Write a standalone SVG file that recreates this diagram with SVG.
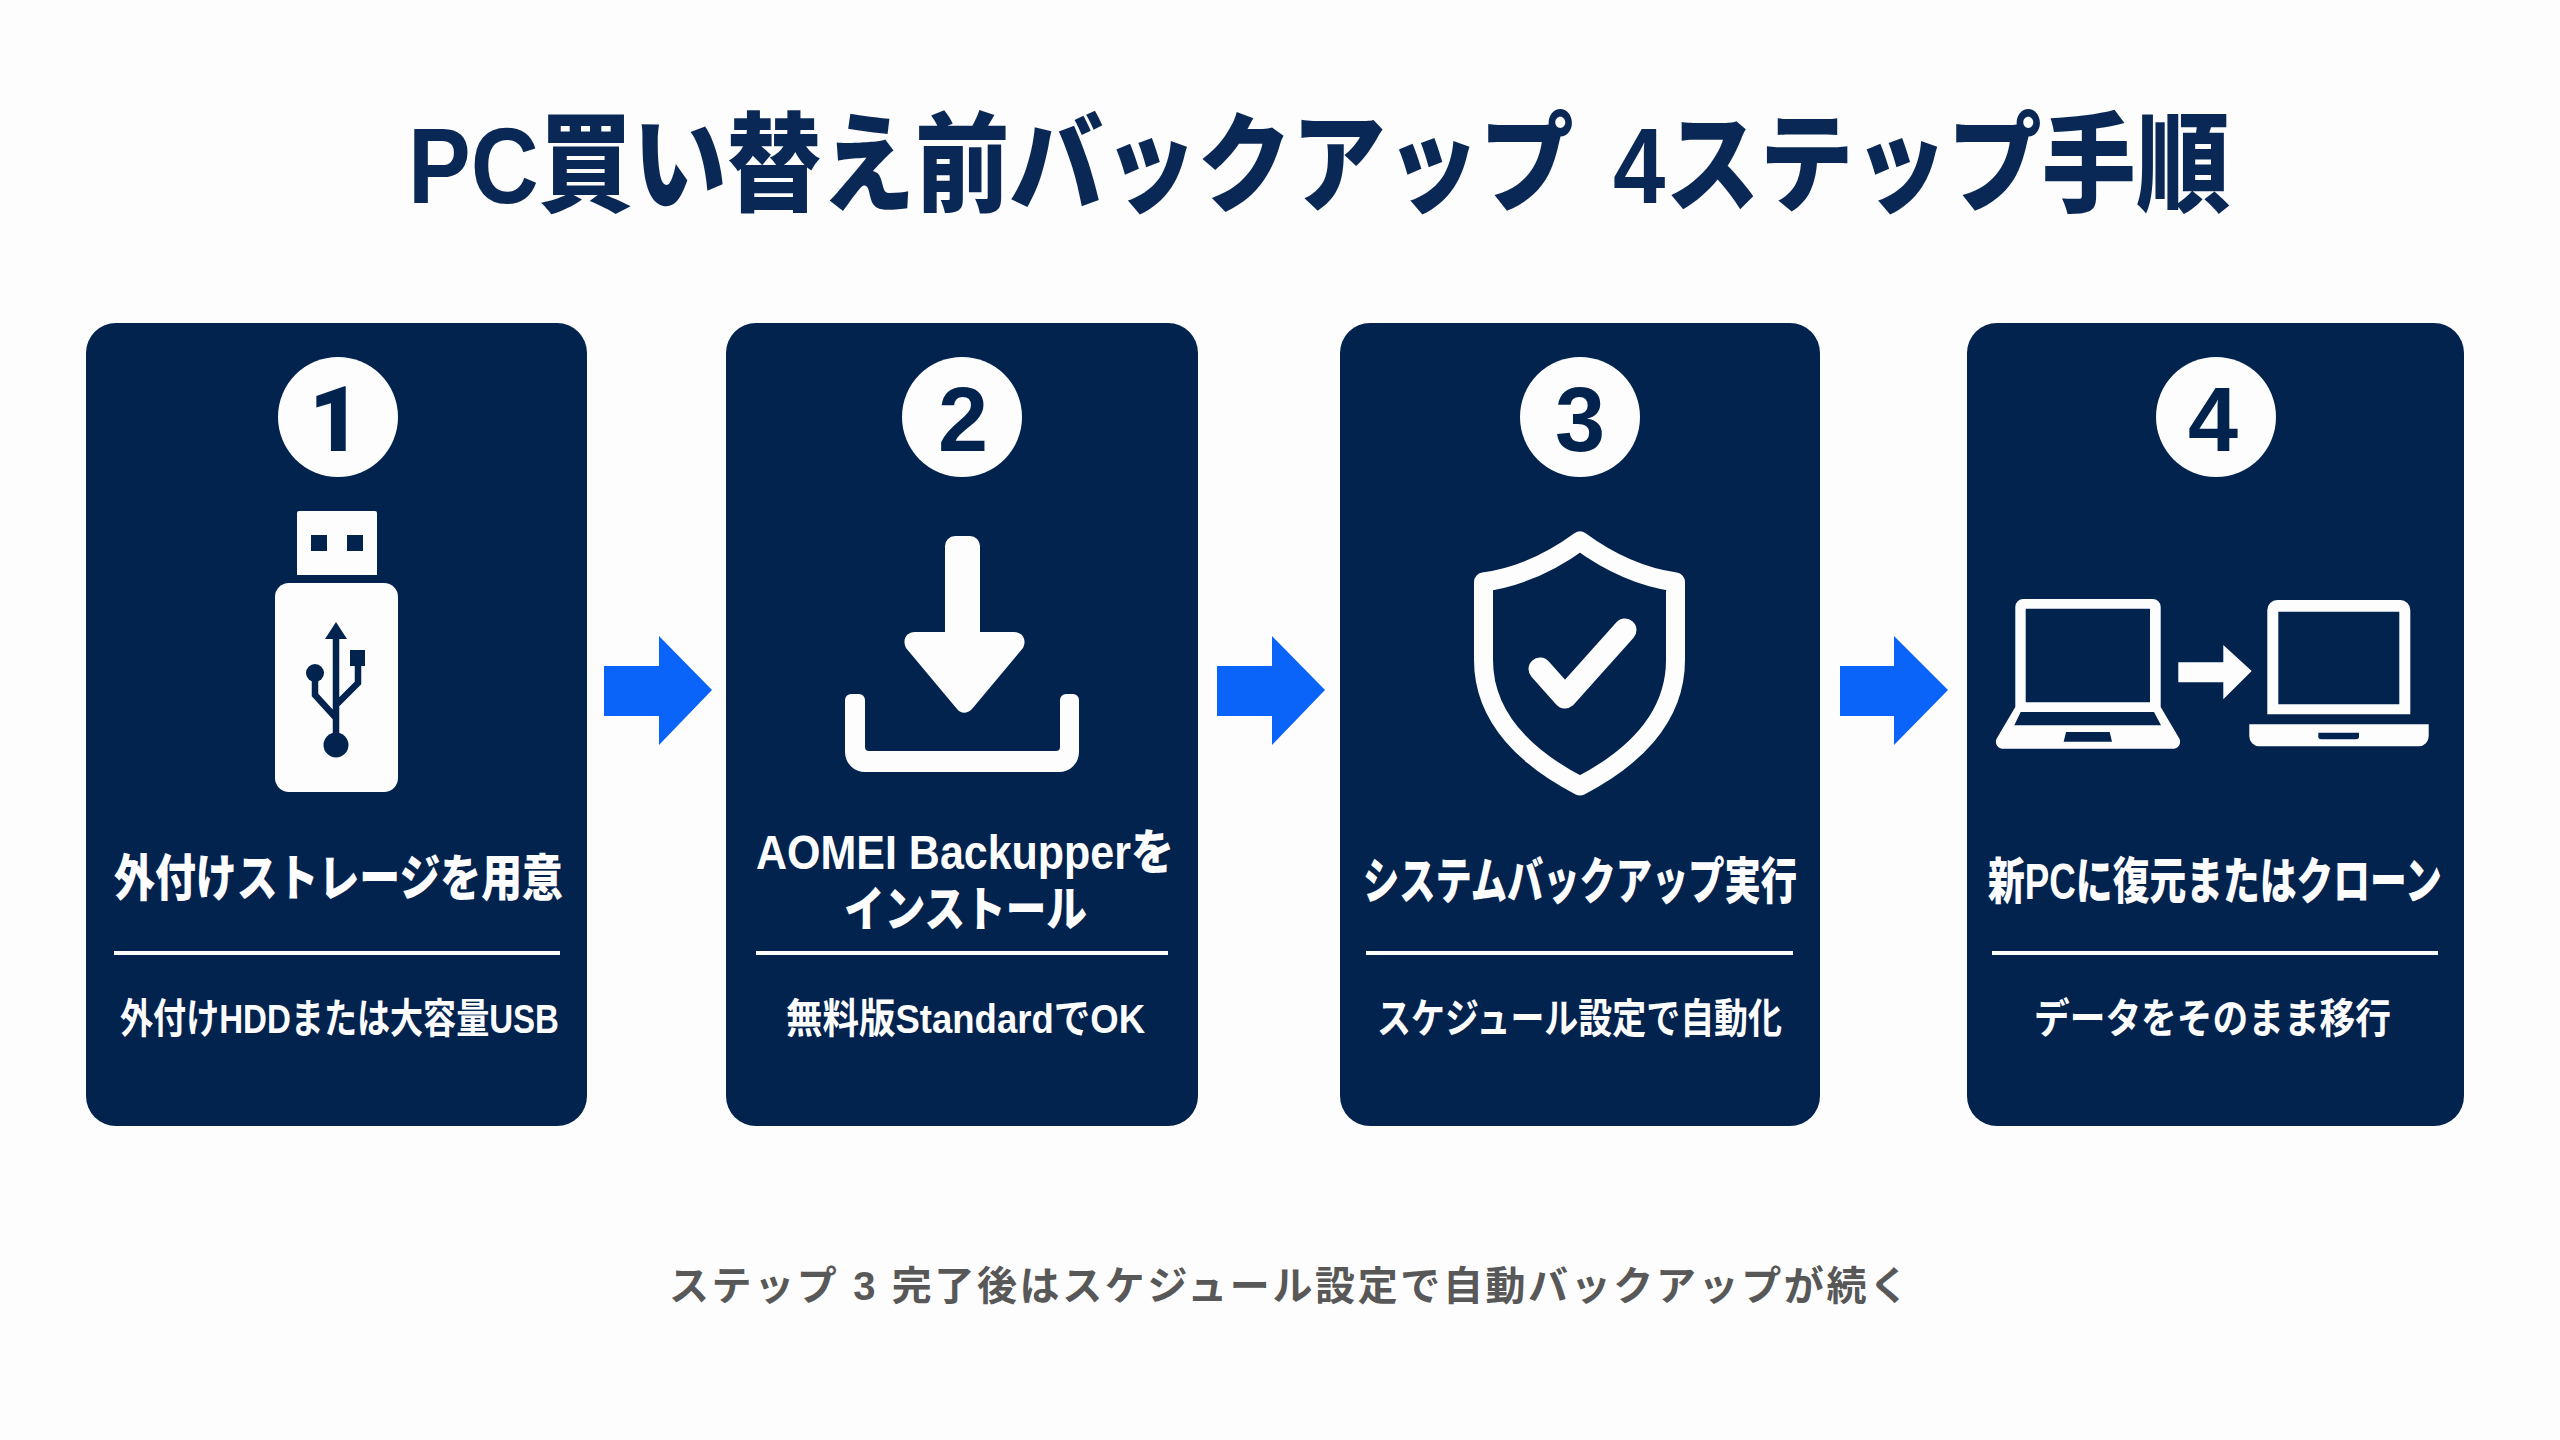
<svg xmlns="http://www.w3.org/2000/svg" width="2560" height="1440" viewBox="0 0 2560 1440">
<style>
text{font-family:"Liberation Sans","Noto Sans CJK JP",sans-serif;font-weight:700}
.card{fill:#03234f}
.w{fill:#fdfdfe}
.d{fill:#03234f}
.num{fill:#03234f;font-size:90px;text-anchor:middle}
.head{fill:#fdfdfe;font-size:50px;font-weight:900}
.sub{fill:#fdfdfe;font-size:41px}
.rule{fill:#fdfdfe}
.arrow{fill:#0a64fa}
</style>
<rect width="2560" height="1440" fill="#fdfdfd"/>
<text id="title" x="408" y="203" font-size="108" fill="#0a2855" style="font-weight:900;word-spacing:15px" textLength="1822" lengthAdjust="spacingAndGlyphs">PC買い替え前バックアップ 4ステップ手順</text>
<g id="connectors">
<polygon class="arrow" points="604,666 659,666 659,636 712,690 659,745 659,716 604,716"/>
<polygon class="arrow" points="1217,666 1272,666 1272,636 1325,690 1272,745 1272,716 1217,716"/>
<polygon class="arrow" points="1840,666 1894,666 1894,636 1948,690 1894,745 1894,716 1840,716"/>
</g>
<g id="step1">
<rect class="card" x="86" y="323" width="501" height="803" rx="30"/>
<circle class="w" cx="338" cy="417" r="60"/>
<text class="num" x="335" y="451" style="font-family:Roboto,sans-serif;font-weight:900">1</text>
<path class="w" fill-rule="evenodd" d="M297 513a2 2 0 0 1 2-2h76a2 2 0 0 1 2 2V575H297ZM311 535v16h16v-16ZM347 535v16h16v-16Z"/>
<rect class="w" x="275" y="583" width="123" height="209" rx="14"/>
<polygon class="d" points="336,622 347,639 325,639"/>
<path d="M336 636V745M315 673V695L336 718M358 666V683L336 705" fill="none" stroke="#03234f" stroke-width="6.5"/>
<circle class="d" cx="315" cy="673" r="9"/>
<rect class="d" x="350" y="650" width="15" height="16"/>
<circle class="d" cx="336" cy="745" r="12.5"/>
<text class="head" x="114" y="896" textLength="449" lengthAdjust="spacingAndGlyphs">外付けストレージを用意</text>
<rect class="rule" x="114" y="951" width="446" height="4"/>
<text class="sub" x="120" y="1033" textLength="439" lengthAdjust="spacingAndGlyphs">外付けHDDまたは大容量USB</text>
</g>
<g id="step2">
<rect class="card" x="726" y="323" width="472" height="803" rx="30"/>
<circle class="w" cx="962" cy="417" r="60"/>
<text class="num" x="963" y="451">2</text>
<path class="w" d="M945 546a10 10 0 0 1 10-10h15a10 10 0 0 1 10 10v86h34c9 0 13 8 9 16l-51 61c-5 5-11 5-15 0l-51-61c-4-8 0-16 9-16h30Z"/>
<path class="w" d="M845 700a6 6 0 0 1 6-6h8a6 6 0 0 1 6 6v47a4 4 0 0 0 4 4h187a4 4 0 0 0 4-4v-47a6 6 0 0 1 6-6h7a6 6 0 0 1 6 6v52a20 20 0 0 1-20 20H865a20 20 0 0 1-20-20Z"/>
<text class="head" x="756" y="869" style="font-size:48px" textLength="418" lengthAdjust="spacingAndGlyphs">AOMEI Backupperを</text>
<text class="head" x="844" y="926" style="font-size:48px" textLength="243" lengthAdjust="spacingAndGlyphs">インストール</text>
<rect class="rule" x="756" y="951" width="412" height="4"/>
<text class="sub" x="786" y="1033" textLength="359" lengthAdjust="spacingAndGlyphs">無料版StandardでOK</text>
</g>
<g id="step3">
<rect class="card" x="1340" y="323" width="480" height="803" rx="30"/>
<circle class="w" cx="1580" cy="417" r="60"/>
<text class="num" x="1580" y="451">3</text>
<path d="M1580 541C1550 563 1520 577 1483.500 582V660C1483.500 720 1530 760 1580 786C1630 760 1675.500 720 1675.500 660V582C1640 577 1610 563 1580 541Z" fill="none" stroke="#fdfdfe" stroke-width="19" stroke-linejoin="round"/>
<path d="M1540 669L1565 697L1625 630" fill="none" stroke="#fdfdfe" stroke-width="23" stroke-linecap="round" stroke-linejoin="round"/>
<text class="head" x="1363" y="899" textLength="434" lengthAdjust="spacingAndGlyphs">システムバックアップ実行</text>
<rect class="rule" x="1366" y="951" width="427" height="4"/>
<text class="sub" x="1377" y="1033" textLength="405" lengthAdjust="spacingAndGlyphs">スケジュール設定で自動化</text>
</g>
<g id="step4">
<rect class="card" x="1967" y="323" width="497" height="803" rx="30"/>
<circle class="w" cx="2216" cy="417" r="60"/>
<text class="num" x="2213" y="451">4</text>
<path class="w" fill-rule="evenodd" d="M2015.300 607a8 8 0 0 1 8-8h129.400a8 8 0 0 1 8 8V707L2179 738a7 7 0 0 1-5 10.700H2002a7 7 0 0 1-5-10.700L2015.300 707ZM2025.700 608.700V702.300H2150V608.700ZM2020.700 712L2014.300 725.300H2161L2154 712ZM2066 732L2063.700 741.700H2112L2109.700 732Z"/>
<path class="w" fill-rule="evenodd" d="M2267.300 610a10 10 0 0 1 10-10h123a10 10 0 0 1 10 10V714.300H2267.300ZM2278.300 611.700V704.300H2399.300V611.700Z"/>
<path class="w" fill-rule="evenodd" d="M2249.300 724.300H2428.700V736a10 10 0 0 1-10 10.300H2259.300a10 10 0 0 1-10-10.300ZM2318.300 732.700V736a3 3 0 0 0 3 3.300H2356a3 3 0 0 0 3-3.300V732.700Z"/>
<polygon class="w" points="2178.300,662.300 2223.300,662.300 2223.300,645 2251.700,671 2223.300,699.300 2223.300,682.300 2178.300,682.300"/>
<text class="head" transform="translate(1988 899) scale(.75 1)" textLength="605" lengthAdjust="spacingAndGlyphs">新PCに復元またはクローン</text>
<rect class="rule" x="1992" y="951" width="446" height="4"/>
<text class="sub" x="2034" y="1033" textLength="357" lengthAdjust="spacingAndGlyphs">データをそのまま移行</text>
</g>
<text id="footer" x="669" y="1300" font-size="40" fill="#585858" textLength="1240">ステップ 3 完了後はスケジュール設定で自動バックアップが続く</text>
</svg>
